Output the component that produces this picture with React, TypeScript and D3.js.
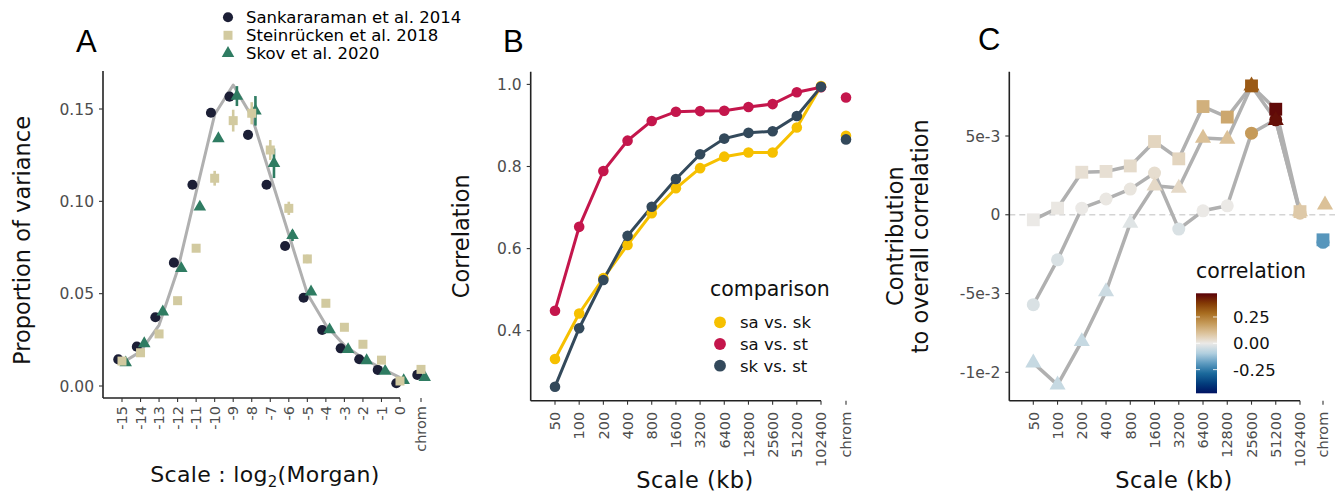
import React from "react";
import * as d3 from "d3";

// ---------------- Panel A data ----------------
const morganScales = [-15, -14, -13, -12, -11, -10, -9, -8, -7, -6, -5, -4, -3, -2, -1, 0];
const morganTickLabels = morganScales.map((d) => String(d));
const expectedCurve = [0.0125, 0.0186, 0.033, 0.0628, 0.105, 0.147, 0.163, 0.146, 0.114, 0.082, 0.05, 0.033, 0.022, 0.015, 0.0096, 0.0045];
const sankararaman = [0.0144, 0.0213, 0.0372, 0.0668, 0.109, 0.148, 0.1567, 0.136, 0.109, 0.0758, 0.0478, 0.0303, 0.0204, 0.0145, 0.0087, 0.0015];
const sankararamanChrom = 0.006;
const steinrucken = [0.0135, 0.018, 0.0282, 0.0462, 0.0746, 0.1125, 0.1437, 0.1477, 0.1278, 0.0962, 0.0688, 0.0448, 0.0318, 0.0226, 0.014, 0.0027];
const steinruckenErr = [0, 0, 0, 0, 0.002, 0.004, 0.0059, 0.006, 0.0054, 0.0036, 0.0023, 0.0012, 0, 0, 0, 0];
const steinruckenChrom = 0.009;
const skov = [0.0126, 0.023, 0.0402, 0.0637, 0.097, 0.134, 0.157, 0.149, 0.1206, 0.0815, 0.051, 0.0305, 0.0198, 0.0138, 0.008, 0.003];
const skovErr = [0, 0, 0, 0, 0.001, 0.0015, 0.0054, 0.008, 0.008, 0.003, 0.001, 0, 0, 0, 0, 0];
const skovChrom = 0.0047;
const studyNames = ["Sankararaman et al. 2014", "Steinrücken et al. 2018", "Skov et al. 2020"];
const yTicksA = [0, 0.05, 0.1, 0.15];

// ---------------- Panel B data ----------------
const kbScales = ["50", "100", "200", "400", "800", "1600", "3200", "6400", "12800", "25600", "51200", "102400"];
const comparisons = ["sa vs. sk", "sa vs. st", "sk vs. st"];
const saVsSk = [0.331, 0.442, 0.528, 0.609, 0.686, 0.747, 0.796, 0.824, 0.834, 0.834, 0.895, 0.996];
const saVsSt = [0.4487, 0.653, 0.789, 0.863, 0.911, 0.9335, 0.935, 0.936, 0.945, 0.952, 0.981, 0.993];
const skVsSt = [0.2636, 0.406, 0.5235, 0.631, 0.702, 0.7696, 0.8297, 0.868, 0.882, 0.886, 0.923, 0.994];
const chromCorrB = [0.875, 0.968, 0.866];
const yTicksB = [0.4, 0.6, 0.8, 1.0];

// ---------------- Panel C data ----------------
const contribCircle = [-0.00571, -0.00286, 0.00042, 0.001, 0.00163, 0.00265, -0.00091, 0.00025, 0.00057, 0.00518, 0.00603, 0.0001];
const contribSquare = [-0.00032, 0.00042, 0.0027, 0.00275, 0.0031, 0.00465, 0.00355, 0.00687, 0.0062, 0.00818, 0.0067, 0.0002];
const contribTriangle = [-0.0094, -0.0108, -0.00804, -0.00487, -0.00053, 0.00184, 0.0017, 0.00487, 0.0048, 0.00818, 0.006, 0.0002];
const contribChrom = [-0.00175, -0.00159, 0.00063]; // circle, square, triangle
const corrCircle = [-0.03, -0.03, 0.0, 0.005, 0.01, 0.03, -0.03, 0.0, 0.0, 0.19, 0.45, 0.08];
const corrSquare = [0.0, 0.005, 0.025, 0.025, 0.035, 0.05, 0.05, 0.14, 0.16, 0.32, 0.46, 0.08];
const corrTriangle = [-0.06, -0.06, -0.06, -0.05, -0.02, 0.04, 0.04, 0.1, 0.1, 0.32, 0.45, 0.08];
const corrChrom = [-0.2, -0.2, 0.1];
const yTicksC = [-0.01, -0.005, 0, 0.005];
const yTickLabelsC = ["-1e-2", "-5e-3", "0", "5e-3"];
const corrLegendTicks = [-0.25, 0, 0.25];
const corrLegendLabels = ["-0.25", "0.00", "0.25"];
const corrLimits = [-0.475, 0.475];
const vikColors = ["#001261", "#033e7d", "#1b6a9c", "#5e9bc0", "#b1cfdf", "#ebe9e6", "#dcc39c", "#c59a59", "#a86d20", "#833a05", "#590008"];

// ---------------- styling ----------------
const FONT = "'DejaVu Sans', sans-serif";
const TICK_COL = "#4d4d4d";
const COL_SANK = "#1c1f36";
const COL_STEIN = "#d2caa0";
const COL_SKOV = "#2f7c62";
const COMP_COLORS = ["#f6c000", "#c4164c", "#33495b"];
const GREY = "#b0b0b0";

const sym = (type: any, size: number) => d3.symbol().type(type).size(size)() as string;

function YAxis({ x, top, bottom, ticks, labels, scale }: any) {
  return (
    <g>
      <line x1={x} x2={x} y1={top} y2={bottom} stroke="#222" strokeWidth={1.6} />
      {ticks.map((t: number, i: number) => (
        <g key={i}>
          <line x1={x - 4} x2={x} y1={scale(t)} y2={scale(t)} stroke="#333" strokeWidth={1.1} />
          <text x={x - 9} y={scale(t)} dy="0.36em" textAnchor="end" fontSize={15.5} fill={TICK_COL} fontFamily={FONT}>
            {labels[i]}
          </text>
        </g>
      ))}
    </g>
  );
}

function XAxis({ left, y, positions, labels, chromX, gap }: any) {
  const last = positions[positions.length - 1];
  return (
    <g>
      <line x1={left} x2={last} y1={y} y2={y} stroke="#222" strokeWidth={1.6} />
      {positions.map((px: number, i: number) => (
        <g key={i}>
          <line x1={px} x2={px} y1={y} y2={y + 4} stroke="#333" strokeWidth={1.1} />
          <text transform={`translate(${px},${y + gap}) rotate(-90)`} dy="0.36em" textAnchor="end" fontSize={14.5} fill={TICK_COL} fontFamily={FONT}>
            {labels[i]}
          </text>
        </g>
      ))}
      <line x1={chromX} x2={chromX} y1={y} y2={y + 4} stroke="#333" strokeWidth={1.1} />
      <text transform={`translate(${chromX},${y + gap}) rotate(-90)`} dy="0.36em" textAnchor="end" fontSize={14.5} fill={TICK_COL} fontFamily={FONT}>
        chrom
      </text>
    </g>
  );
}

function PanelA() {
  const left = 103, top = 71, bottom = 398;
  const xA = d3.scaleLinear().domain([-15, 0]).range([122, 400]);
  const chromX = xA(0) + 21;
  const yA = d3.scaleLinear().domain([0, 0.15]).range([386, 109]);
  const dodge = (xA(1) - xA(0)) * 0.2;
  const curve = d3
    .line<number>()
    .x((_, i) => xA(morganScales[i]))
    .y((d) => yA(d))(expectedCurve) as string;
  const circ = sym(d3.symbolCircle, 80);
  const sq = sym(d3.symbolSquare, 81);
  const tri = sym(d3.symbolTriangle, 68);
  const positions = morganScales.map((s) => xA(s));
  return (
    <g>
      <text x={76} y={52} fontSize={31} fontFamily="'Liberation Sans', Arial, sans-serif">A</text>
      {/* legend */}
      {[circ, sq, tri].map((p, i) => (
        <g key={i}>
          <path d={p} transform={`translate(228,${17.3 + i * 18})`} fill={[COL_SANK, COL_STEIN, COL_SKOV][i]} />
          <text x={246} y={17.3 + i * 18} dy="0.36em" fontSize={16.5} fontFamily={FONT}>
            {studyNames[i]}
          </text>
        </g>
      ))}
      <YAxis x={left} top={top} bottom={bottom} ticks={yTicksA} labels={yTicksA.map((t) => d3.format(".2f")(t))} scale={yA} />
      <XAxis left={left} y={bottom} positions={positions} labels={morganTickLabels} chromX={chromX} gap={8} />
      <path d={curve} fill="none" stroke={GREY} strokeWidth={3} strokeLinejoin="round" />
      {sankararaman.map((v, i) => (
        <path key={"c" + i} d={circ} transform={`translate(${xA(morganScales[i]) - dodge},${yA(v)})`} fill={COL_SANK} />
      ))}
      <path d={circ} transform={`translate(${chromX - dodge},${yA(sankararamanChrom)})`} fill={COL_SANK} />
      {skov.map((v, i) => (
        <g key={"t" + i}>
          {skovErr[i] > 0 && (
            <line x1={xA(morganScales[i]) + dodge} x2={xA(morganScales[i]) + dodge} y1={yA(v - skovErr[i])} y2={yA(v + skovErr[i])} stroke={COL_SKOV} strokeWidth={2.6} />
          )}
          <path d={tri} transform={`translate(${xA(morganScales[i]) + dodge},${yA(v)})`} fill={COL_SKOV} />
        </g>
      ))}
      <path d={tri} transform={`translate(${chromX + dodge},${yA(skovChrom)})`} fill={COL_SKOV} />
      {steinrucken.map((v, i) => (
        <g key={"s" + i}>
          {steinruckenErr[i] > 0 && (
            <line x1={xA(morganScales[i])} x2={xA(morganScales[i])} y1={yA(v - steinruckenErr[i])} y2={yA(v + steinruckenErr[i])} stroke={COL_STEIN} strokeWidth={2.6} />
          )}
          <path d={sq} transform={`translate(${xA(morganScales[i])},${yA(v)})`} fill={COL_STEIN} />
        </g>
      ))}
      <path d={sq} transform={`translate(${chromX},${yA(steinruckenChrom)})`} fill={COL_STEIN} />
      {/* titles */}
      <text transform={`translate(30,${(top + bottom) / 2 + 6}) rotate(-90)`} textAnchor="middle" fontSize={22.5} fontFamily={FONT} fill="#111">
        Proportion of variance
      </text>
      <text x={265} y={482} textAnchor="middle" fontSize={22} fontFamily={FONT} fill="#111" letterSpacing={0.3}>
        Scale : log
        <tspan fontSize={15} dy={5}>2</tspan>
        <tspan dy={-5}>(Morgan)</tspan>
      </text>
    </g>
  );
}

function PanelB() {
  const left = 530.7, top = 71.7, bottom = 400.7;
  const xB = d3.scalePoint<string>().domain(kbScales).range([555, 821]);
  const chromX = (xB("102400") as number) + 25;
  const yB = d3.scaleLinear().domain([0.4, 1.0]).range([330.7, 84.4]);
  const series = [saVsSk, saVsSt, skVsSt];
  const line = d3
    .line<number>()
    .x((_, i) => xB(kbScales[i]) as number)
    .y((d) => yB(d));
  const circ = sym(d3.symbolCircle, 88);
  return (
    <g>
      <text x={503} y={52} fontSize={31} fontFamily="'Liberation Sans', Arial, sans-serif">B</text>
      <YAxis x={left} top={top} bottom={bottom} ticks={yTicksB} labels={yTicksB.map((t) => d3.format(".1f")(t))} scale={yB} />
      <XAxis left={left} y={bottom} positions={kbScales.map((k) => xB(k))} labels={kbScales} chromX={chromX} gap={11} />
      {series.map((s, j) => (
        <path key={"l" + j} d={line(s) as string} fill="none" stroke={COMP_COLORS[j]} strokeWidth={3} />
      ))}
      {series.map((s, j) => (
        <g key={"p" + j}>
          {s.map((v, i) => (
            <path key={i} d={circ} transform={`translate(${xB(kbScales[i])},${yB(v)})`} fill={COMP_COLORS[j]} />
          ))}
          <path d={circ} transform={`translate(${chromX},${yB(chromCorrB[j])})`} fill={COMP_COLORS[j]} />
        </g>
      ))}
      {/* legend */}
      <text x={710} y={289} dy="0.36em" fontSize={20.5} fontFamily={FONT} fill="#111">comparison</text>
      {comparisons.map((c, j) => (
        <g key={c}>
          <path d={sym(d3.symbolCircle, 110)} transform={`translate(720,${322.3 + j * 21.7})`} fill={COMP_COLORS[j]} />
          <text x={740} y={322.3 + j * 21.7} dy="0.36em" fontSize={16.5} fontFamily={FONT} fill="#111">{c}</text>
        </g>
      ))}
      <text transform={`translate(469,${(top + bottom) / 2}) rotate(-90)`} textAnchor="middle" fontSize={22.5} fontFamily={FONT} fill="#111">
        Correlation
      </text>
      <text x={695} y={488} textAnchor="middle" fontSize={22.5} fontFamily={FONT} fill="#111" letterSpacing={0.5}>
        Scale (kb)
      </text>
    </g>
  );
}

function PanelC() {
  const left = 1009.3, top = 71.7, bottom = 400.7;
  const xC = d3.scalePoint<string>().domain(kbScales).range([1033.3, 1300]);
  const chromX = (xC("102400") as number) + 23;
  const yC = d3.scaleLinear().domain([-0.01, 0.005]).range([372.3, 136]);
  const color = d3.scaleSequential(d3.piecewise(d3.interpolateRgb, vikColors)).domain(corrLimits);
  const line = d3
    .line<number>()
    .x((_, i) => xC(kbScales[i]) as number)
    .y((d) => yC(d));
  const shapes = [sym(d3.symbolCircle, 133), sym(d3.symbolSquare, 165), sym(d3.symbolTriangle, 112)];
  const values = [contribCircle, contribSquare, contribTriangle];
  const corrs = [corrCircle, corrSquare, corrTriangle];
  const barTop = 293.3, barBottom = 393.3, barX = 1196, barW = 21;
  const yLeg = d3.scaleLinear().domain(corrLimits).range([barBottom, barTop]);
  const gradStops = d3.range(0, 1.0001, 0.05);
  return (
    <g>
      <defs>
        <linearGradient id="corrGrad" x1="0" x2="0" y1="1" y2="0">
          {gradStops.map((t) => (
            <stop key={t} offset={t} stopColor={color(corrLimits[0] + t * (corrLimits[1] - corrLimits[0]))} />
          ))}
        </linearGradient>
      </defs>
      <text x={978} y={50} fontSize={31} fontFamily="'Liberation Sans', Arial, sans-serif">C</text>
      <line x1={left} x2={1335} y1={yC(0)} y2={yC(0)} stroke="#d4d4d4" strokeWidth={1.6} strokeDasharray="6 4" />
      <YAxis x={left} top={top} bottom={bottom} ticks={yTicksC} labels={yTickLabelsC} scale={yC} />
      <XAxis left={left} y={bottom} positions={kbScales.map((k) => xC(k))} labels={kbScales} chromX={chromX} gap={11} />
      {values.map((s, j) => (
        <path key={"l" + j} d={line(s) as string} fill="none" stroke={GREY} strokeWidth={3.5} strokeLinejoin="round" />
      ))}
      {values.map((s, j) => (
        <g key={"p" + j}>
          {s.map((v, i) => (
            <path key={i} d={shapes[j]} transform={`translate(${xC(kbScales[i])},${yC(v)})`} fill={color(corrs[j][i])} />
          ))}
          <path d={shapes[j]} transform={`translate(${chromX + (j === 2 ? 2 : 0)},${yC(contribChrom[j])})`} fill={color(corrChrom[j])} />
        </g>
      ))}
      {/* legend */}
      <text x={barX} y={270.7} dy="0.36em" fontSize={20.5} fontFamily={FONT} fill="#111">correlation</text>
      <rect x={barX} y={barTop} width={barW} height={barBottom - barTop} fill="url(#corrGrad)" />
      {corrLegendTicks.map((t, i) => (
        <g key={t}>
          <line x1={barX} x2={barX + 4} y1={yLeg(t)} y2={yLeg(t)} stroke="#fff" strokeWidth={1} opacity={0.8} />
          <line x1={barX + barW - 4} x2={barX + barW} y1={yLeg(t)} y2={yLeg(t)} stroke="#fff" strokeWidth={1} opacity={0.8} />
          <text x={1233} y={yLeg(t)} dy="0.36em" fontSize={16.5} fontFamily={FONT} fill="#111">{corrLegendLabels[i]}</text>
        </g>
      ))}
      <text transform={`translate(${903},${(top + bottom) / 2}) rotate(-90)`} textAnchor="middle" fontSize={22.5} fontFamily={FONT} fill="#111">
        Contribution
      </text>
      <text transform={`translate(${928},${(top + bottom) / 2}) rotate(-90)`} textAnchor="middle" fontSize={22.5} fontFamily={FONT} fill="#111">
        to overall correlation
      </text>
      <text x={1174} y={488} textAnchor="middle" fontSize={22.5} fontFamily={FONT} fill="#111" letterSpacing={0.5}>
        Scale (kb)
      </text>
    </g>
  );
}

export default function App() {
  return (
    <svg width={1342} height={495} style={{ position: "absolute", left: 0, top: 0, background: "#fff" }}>
      <rect width={1342} height={495} fill="#fff" />
      <PanelA />
      <PanelB />
      <PanelC />
    </svg>
  );
}
